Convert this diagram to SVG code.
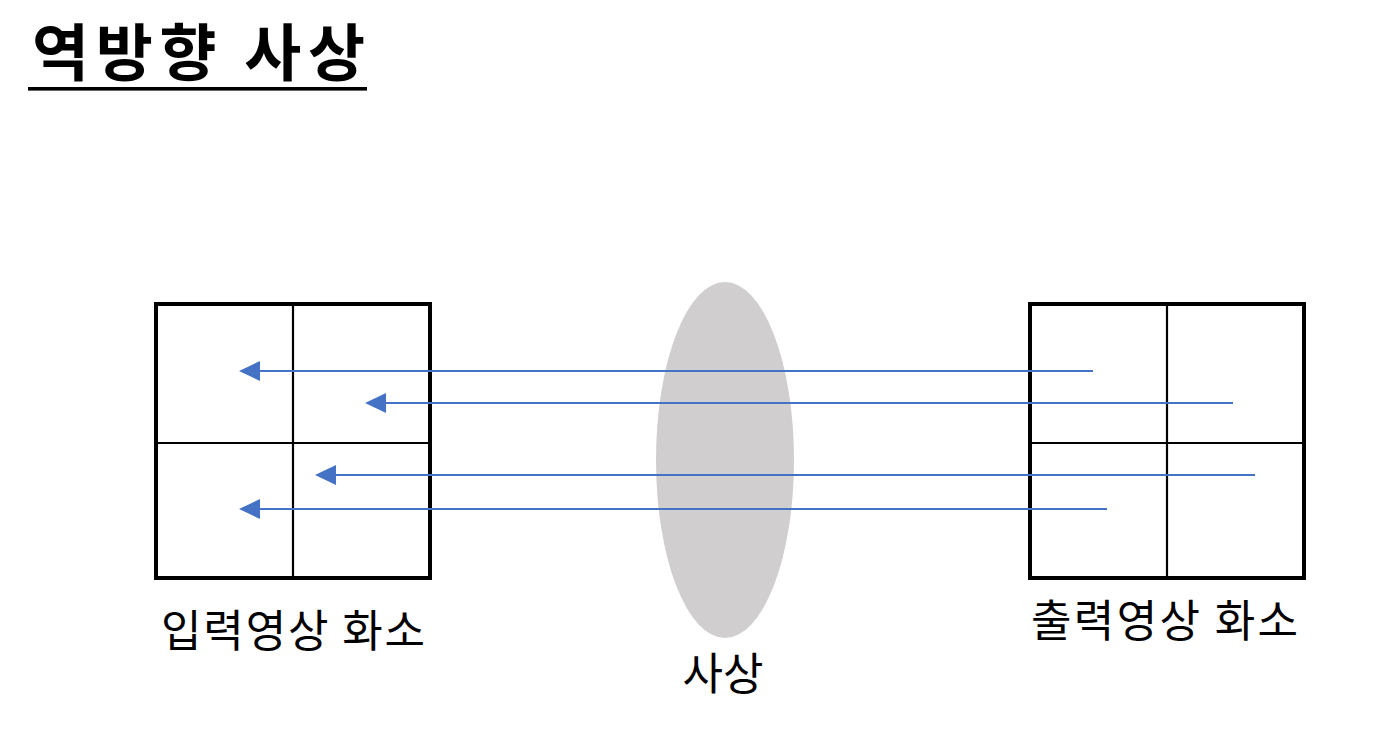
<svg xmlns="http://www.w3.org/2000/svg" width="1382" height="740" viewBox="0 0 1382 740">
  <style>
    .txt { font-family: "Noto Sans CJK KR", "Noto Sans", sans-serif; fill: #000; }
    .title { font-size: 62px; font-weight: bold; }
    .label { font-size: 44px; }
    .frame { fill: #fff; stroke: #000; stroke-width: 4; }
    .cell { stroke: #000; stroke-width: 2.2; }
    .conn { stroke: #4472C4; stroke-width: 2; fill: none; marker-end: url(#head); }
  </style>
  <defs>
    <marker id="head" markerUnits="userSpaceOnUse" viewBox="0 0 21 20" markerWidth="21" markerHeight="20" refX="0" refY="10" orient="auto">
      <path d="M0,0 L21,10 L0,20 z" fill="#4472C4"/>
    </marker>
  </defs>
  <rect width="1382" height="740" fill="#fff"/>

  <g id="title">
    <text class="txt title" x="32" y="76" textLength="333" lengthAdjust="spacing">역방향 사상</text>
    <rect x="28" y="87" width="339" height="3.6" fill="#000"/>
  </g>

  <g id="input-grid">
    <rect class="frame" x="156" y="304" width="274" height="274"/>
    <line class="cell" x1="293" y1="304" x2="293" y2="578"/>
    <line class="cell" x1="156" y1="443" x2="430" y2="443"/>
    <text class="txt label" x="161" y="647" textLength="264" lengthAdjust="spacing">입력영상 화소</text>
  </g>

  <g id="mapping">
    <ellipse cx="725" cy="460" rx="69" ry="178" fill="#D0CECE"/>
    <text class="txt label" x="723" y="690" text-anchor="middle">사상</text>
  </g>

  <g id="output-grid">
    <rect class="frame" x="1030" y="304" width="274" height="274"/>
    <line class="cell" x1="1167" y1="304" x2="1167" y2="578"/>
    <line class="cell" x1="1030" y1="443" x2="1304" y2="443"/>
    <text class="txt label" x="1031" y="637" textLength="267" lengthAdjust="spacing">출력영상 화소</text>
  </g>

  <g id="connectors">
    <line class="conn" x1="1093" y1="371" x2="260" y2="371"/>
    <line class="conn" x1="1233" y1="403" x2="386" y2="403"/>
    <line class="conn" x1="1255" y1="475" x2="336" y2="475"/>
    <line class="conn" x1="1107" y1="509" x2="260" y2="509"/>
  </g>
</svg>
